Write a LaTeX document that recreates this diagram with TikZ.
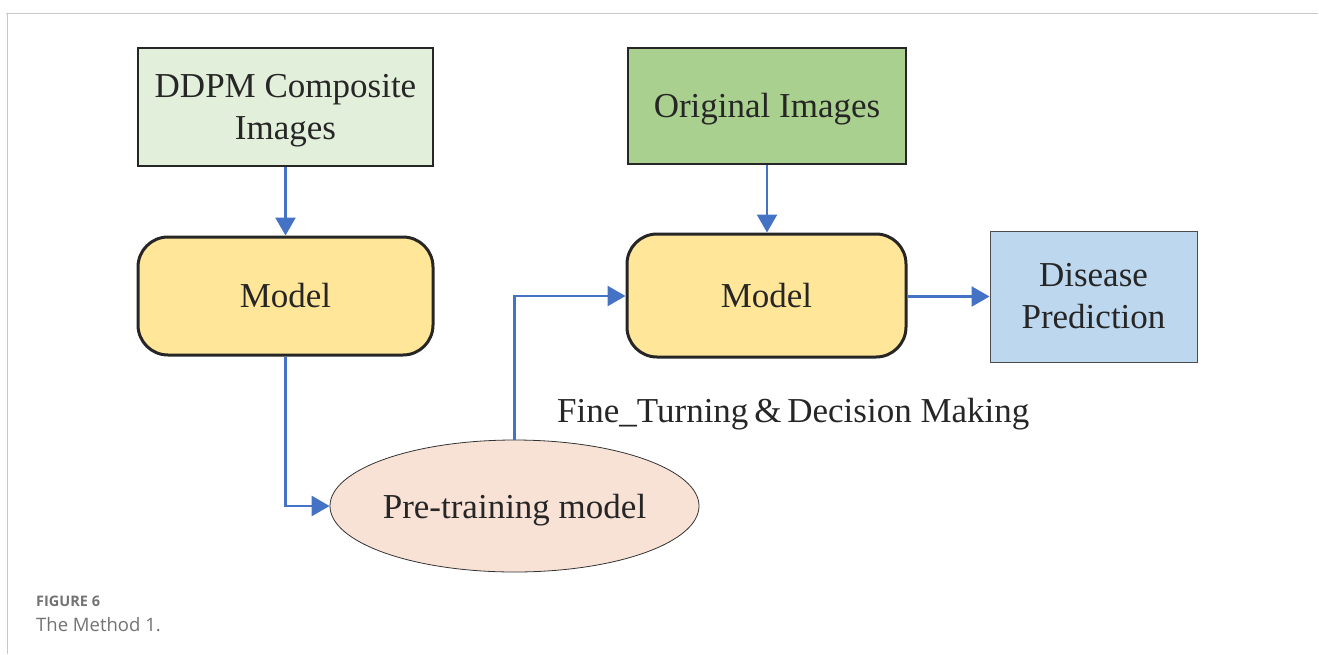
\documentclass[tikz,border=0pt]{standalone}
\usepackage{fontspec}
\setmainfont{Liberation Serif}
\newfontfamily\capfont{Open Sans}
\usetikzlibrary{arrows.meta,shapes.geometric}
\definecolor{flowblue}{HTML}{4472C4}
\definecolor{ddpmfill}{HTML}{E2EFDA}
\definecolor{origfill}{HTML}{A9D08E}
\definecolor{modelfill}{HTML}{FFE699}
\definecolor{predfill}{HTML}{BDD7EE}
\definecolor{pretrainfill}{HTML}{F8E2D6}
\definecolor{framegray}{HTML}{C8C8C8}
\tikzset{
  lbl/.style={font=\fontsize{35}{42}\selectfont, text=black!85, align=center},
  inbox/.style={draw=black!85, line width=2.5pt, minimum width=295pt, minimum height=118pt, inner sep=0pt},
  modelbox/.style={lbl, draw=black!85, line width=3pt, rounded corners=30pt, fill=modelfill, inner sep=0pt},
  flow/.style={draw=flowblue, line width=2.5pt, -{Triangle[length=18pt,width=20pt]}},
}
\begin{document}
\begin{tikzpicture}[x=1pt,y=-1pt]
\useasboundingbox (0,0) rectangle (1319,654);
% outer frame
\draw[framegray, line width=1.2pt] (6,13.5) -- (1318,13.5);
\draw[framegray, line width=1.2pt] (7.5,13.5) -- (7.5,654);

% left column
\node[inbox, fill=ddpmfill] (ddpm) at (285.5,107) {};
\node[lbl, inner sep=0pt] (ddpmtxt) at ([yshift=-4pt]ddpm.center) {DDPM Composite\\Images};
\node[modelbox, minimum width=295pt, minimum height=118pt] (m1) at (285.5,296) {Model};
\node[ellipse, draw=black!80, line width=0.8pt, fill=pretrainfill,
      minimum width=369pt, minimum height=132pt, inner sep=0pt] (pre) at (514.5,506) {};
\node[lbl, inner sep=0pt] (pretxt) at ([yshift=-4pt]pre.center) {Pre-training model};

% right column
\node[inbox, fill=origfill, minimum width=278pt, minimum height=116pt] (orig) at (767,106) {};
\node[lbl, inner sep=0pt] (origtxt) at ([yshift=-3pt]orig.center) {Original Images};
\node[modelbox, minimum width=279pt, minimum height=123pt] (m2) at (766.5,295.5) {Model};
\node[lbl, draw=black!70, line width=1pt, fill=predfill, minimum width=207pt,
      minimum height=131pt, inner sep=0pt] (pred) at (1093.5,296.5) {Disease\\Prediction};

\node[lbl, anchor=west, inner sep=0pt] (ft) at (557,414) {Fine\_Turning\,\&\,Decision Making};

% connectors
\coordinate (c1) at (m1.south |- pre.west);
\coordinate (c2) at (pre.north |- 0,296);
\draw[flow] (ddpm.south) -- (ddpm.south |- m1.north);
\draw[flow] (m1.south) -- (c1) -- (pre.west);
\draw[flow] (pre.north) -- (c2) -- (c2 -| m2.west);
\draw[flow] (orig.south) -- (orig.south |- m2.north);
\draw[flow] (m2.east |- pred.west) -- (pred.west);

% caption
\node[anchor=base west, inner sep=0pt, font=\capfont\bfseries\fontsize{14.5}{17}\selectfont, text=black!55] (fig) at (36,606) {FIGURE 6};
\node[anchor=base west, inner sep=0pt, font=\capfont\fontsize{18.5}{22}\selectfont, text=black!55] (cap) at (36,631) {The Method 1.};
\end{tikzpicture}
\end{document}
